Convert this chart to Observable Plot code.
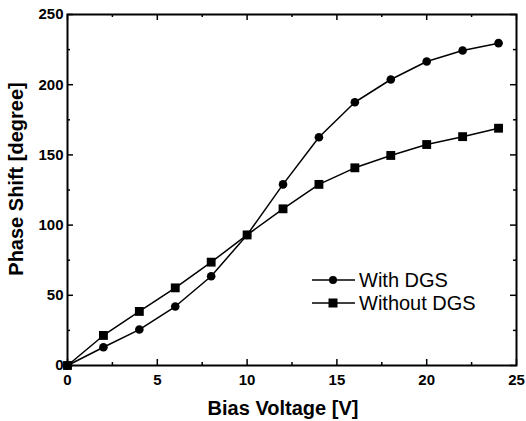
<!DOCTYPE html>
<html><head><meta charset="utf-8">
<script src="https://cdn.jsdelivr.net/npm/d3@7"></script>
<script src="https://cdn.jsdelivr.net/npm/@observablehq/plot@0.6"></script>
<style>
body{margin:0;background:#fff}
#wrap{position:relative;width:526px;height:421px}
#wrap svg{position:absolute;left:0;top:0}
</style>
</head><body><div id="wrap"></div>
<script>
const voltage    = [0, 2, 4, 6, 8, 10, 12, 14, 16, 18, 20, 22, 24];
const withDGS    = [0, 13, 25.6, 42, 63.6, 93, 129, 162.6, 187.5, 203.7, 216.5, 224.4, 229.6];
const withoutDGS = [0, 21.4, 38.5, 55.3, 73.6, 93, 111.6, 129, 140.8, 149.6, 157.4, 163, 169];
const seriesNames = ["With DGS", "Without DGS"];
const xMajorTicks = [0, 5, 10, 15, 20, 25];
const xMinorTicks = [2.5, 7.5, 12.5, 17.5, 22.5];
const yMajorTicks = [0, 50, 100, 150, 200, 250];
const yMinorTicks = [25, 75, 125, 175, 225];
const xLabel = "Bias Voltage [V]";
const yLabel = "Phase Shift [degree]";

const W = 526, H = 421;
const mL = 67, mR = 10, mT = 14, mB = 56;
const pw = W - mL - mR, ph = H - mT - mB;
const font = "'Liberation Sans', Arial, Helvetica, sans-serif";

const rows = [];
voltage.forEach((v, i) => rows.push({v, p: withDGS[i], s: seriesNames[0]}));
voltage.forEach((v, i) => rows.push({v, p: withoutDGS[i], s: seriesNames[1]}));
const rowsA = rows.filter(d => d.s === seriesNames[0]);
const rowsB = rows.filter(d => d.s === seriesNames[1]);

const maj = 6, mnr = 3;
const chart = Plot.plot({
  width: W, height: H,
  marginLeft: mL, marginRight: mR, marginTop: mT, marginBottom: mB,
  style: {fontFamily: font, background: "#fff", color: "#000"},
  x: {domain: [0, 25]},
  y: {domain: [0, 250]},
  marks: [
    Plot.axisX({ticks: xMajorTicks, tickSize: 0, tickPadding: 9, fontSize: 15, fontWeight: "bold", label: null, tickFormat: d => String(d)}),
    Plot.axisY({ticks: yMajorTicks, tickSize: 0, tickPadding: 4, fontSize: 15, fontWeight: "bold", label: null, tickFormat: d => String(d)}),
    Plot.tickX(xMajorTicks, {x: d => d, insetTop: ph - maj, strokeWidth: 1.5}),
    Plot.tickX(xMajorTicks, {x: d => d, insetBottom: ph - maj, strokeWidth: 1.5}),
    Plot.tickX(xMinorTicks, {x: d => d, insetTop: ph - mnr, strokeWidth: 1.5}),
    Plot.tickX(xMinorTicks, {x: d => d, insetBottom: ph - mnr, strokeWidth: 1.5}),
    Plot.tickY(yMajorTicks, {y: d => d, insetRight: pw - maj, strokeWidth: 1.5}),
    Plot.tickY(yMajorTicks, {y: d => d, insetLeft: pw - maj, strokeWidth: 1.5}),
    Plot.tickY(yMinorTicks, {y: d => d, insetRight: pw - mnr, strokeWidth: 1.5}),
    Plot.tickY(yMinorTicks, {y: d => d, insetLeft: pw - mnr, strokeWidth: 1.5}),
    Plot.frame({stroke: "#000", strokeWidth: 2}),
    Plot.line(rowsA, {x: "v", y: "p", stroke: "#000", strokeWidth: 1.5}),
    Plot.line(rowsB, {x: "v", y: "p", stroke: "#000", strokeWidth: 1.5}),
    Plot.dot(rowsA, {x: "v", y: "p", r: 4.3, fill: "#000", stroke: "none", symbol: "circle"}),
    Plot.dot(rowsB, {x: "v", y: "p", r: 5, fill: "#000", stroke: "none", symbol: "square"})
  ]
});
const wrap = document.getElementById("wrap");
wrap.appendChild(chart);

// overlay: axis titles and legend
const ov = d3.select(wrap).append("svg").attr("width", W).attr("height", H)
  .style("font-family", font).style("pointer-events", "none");
ov.append("text").attr("x", 283).attr("y", 408).attr("text-anchor", "middle")
  .attr("dominant-baseline", "central").attr("font-size", 20).attr("font-weight", "bold").text(xLabel);
ov.append("text").attr("transform", "translate(16,179) rotate(-90)").attr("text-anchor", "middle")
  .attr("dominant-baseline", "central").attr("font-size", 20).attr("font-weight", "bold").text(yLabel);

const legY = [280, 303];
const sym = [d3.symbol(d3.symbolCircle, Math.PI * 4 * 4), d3.symbol(d3.symbolSquare, 9 * 9)];
seriesNames.forEach((name, i) => {
  const g = ov.append("g").attr("transform", `translate(0,${legY[i]})`);
  g.append("line").attr("x1", 312).attr("x2", 355).attr("y1", 0).attr("y2", 0).attr("stroke", "#000").attr("stroke-width", 1.5);
  g.append("path").attr("d", sym[i]()).attr("transform", "translate(333,0)").attr("fill", "#000");
  g.append("text").attr("x", 359).attr("y", 7).attr("font-size", 20).text(name);
});
</script>
</body></html>
